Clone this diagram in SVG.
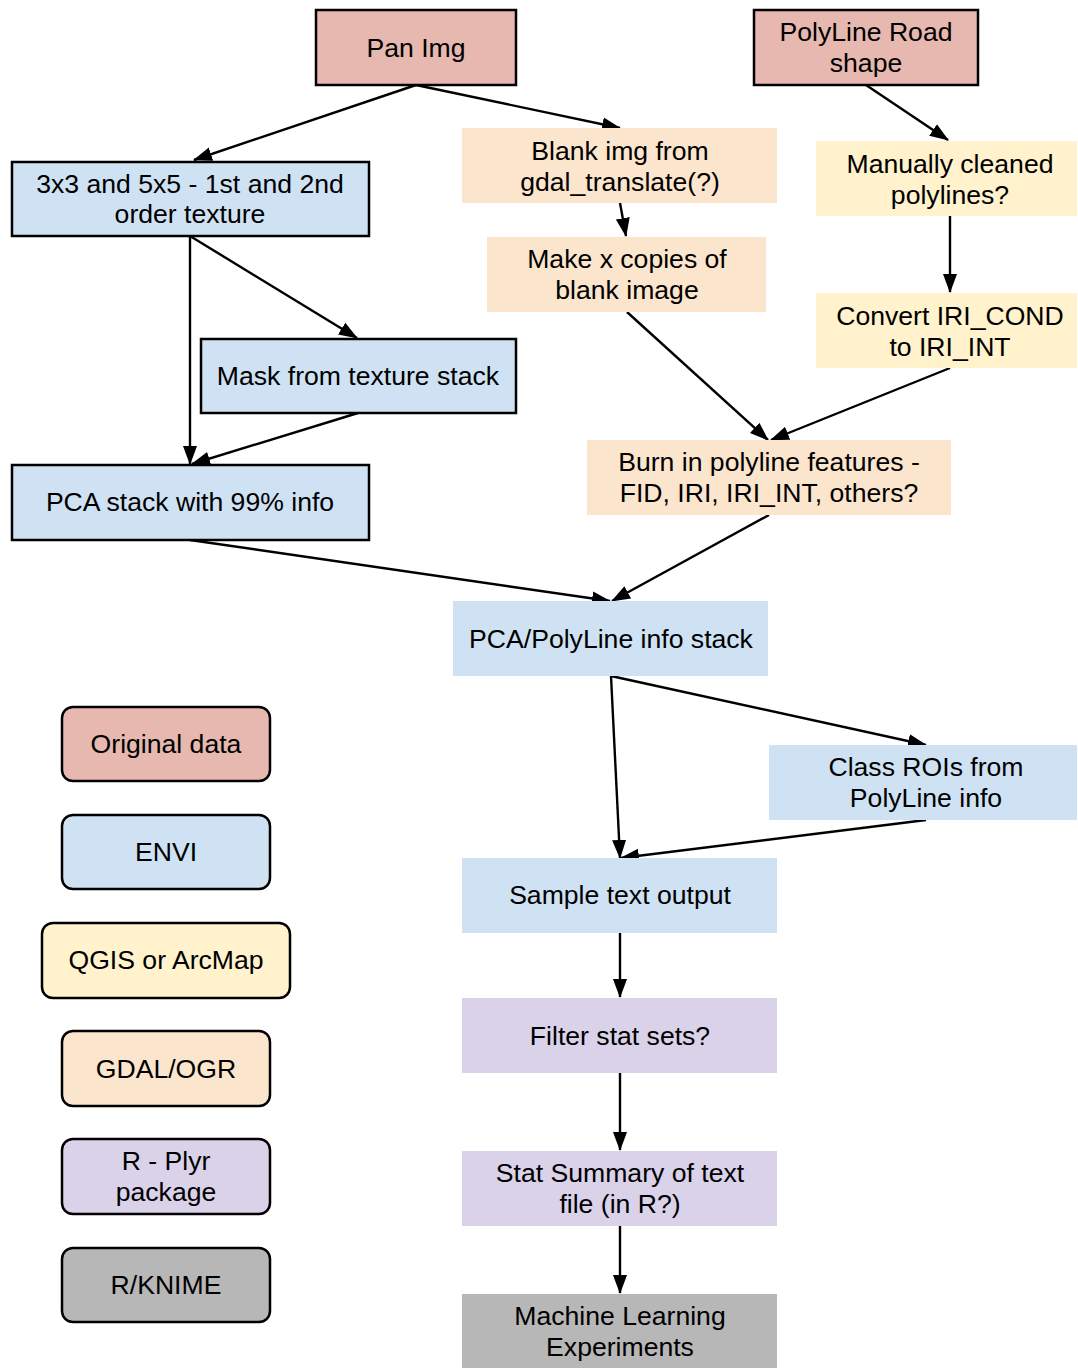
<svg xmlns="http://www.w3.org/2000/svg" width="1078" height="1368" viewBox="0 0 1078 1368">
<defs>
<marker id="ah" markerUnits="userSpaceOnUse" markerWidth="20" markerHeight="16" refX="18" refY="8" orient="auto">
<path d="M0,1 L19,8 L0,15 Z" fill="#000"/>
</marker>
<style>
.t{font-family:"Liberation Sans",Arial,sans-serif;font-size:26.6px;fill:#000;text-anchor:middle}
.s{stroke:#000;stroke-width:2.5}
.red{fill:#e6b8af}.blue{fill:#cfe2f3}.yel{fill:#fff2cc}.org{fill:#fce5cd}.pur{fill:#d9d2e9}.gry{fill:#b7b7b7}
.c{fill:none;stroke:#000;stroke-width:2.4;marker-end:url(#ah)}
</style>
</defs>
<rect width="1078" height="1368" fill="#fff"/>
<g id="connectors">
<line class="c" x1="416" y1="85" x2="194" y2="160"/>
<line class="c" x1="416" y1="85" x2="620" y2="128"/>
<line class="c" x1="866" y1="85" x2="948" y2="140"/>
<line class="c" x1="620" y1="203" x2="626" y2="236"/>
<line class="c" x1="950" y1="216" x2="950" y2="292"/>
<line class="c" x1="190" y1="236" x2="190" y2="464"/>
<line class="c" x1="190" y1="236" x2="357" y2="338"/>
<line class="c" x1="358" y1="413" x2="192" y2="464"/>
<line class="c" x1="627" y1="312" x2="768" y2="440"/>
<line class="c" x1="950" y1="368" x2="771" y2="440"/>
<line class="c" x1="769" y1="515" x2="612" y2="601"/>
<line class="c" x1="190" y1="540" x2="610" y2="601"/>
<line class="c" x1="611" y1="676" x2="620" y2="858"/>
<line class="c" x1="611" y1="676" x2="926" y2="745"/>
<line class="c" x1="926" y1="820" x2="621" y2="858"/>
<line class="c" x1="620" y1="933" x2="620" y2="997"/>
<line class="c" x1="620" y1="1073" x2="620" y2="1150"/>
<line class="c" x1="620" y1="1226" x2="620" y2="1293"/>
</g>
<g id="pan-img"><rect class="red s" x="316" y="10" width="200" height="75"/><text class="t" x="416" y="57">Pan Img</text></g>
<g id="polyline-road"><rect class="red s" x="754" y="10" width="224" height="75"/><text class="t" x="866" y="41">PolyLine Road</text><text class="t" x="866" y="72">shape</text></g>
<g id="blank-img"><rect class="org" x="462" y="128" width="315" height="75"/><text class="t" x="620" y="160">Blank img from</text><text class="t" x="620" y="191">gdal_translate(?)</text></g>
<g id="manually-cleaned"><rect class="yel" x="816" y="141" width="261" height="75"/><text class="t" x="950" y="173">Manually cleaned</text><text class="t" x="950" y="204">polylines?</text></g>
<g id="texture"><rect class="blue s" x="12" y="162" width="357" height="74"/><text class="t" x="190" y="193">3x3 and 5x5 - 1st and 2nd</text><text class="t" x="190" y="223">order texture</text></g>
<g id="make-copies"><rect class="org" x="487" y="237" width="279" height="75"/><text class="t" x="627" y="268">Make x copies of</text><text class="t" x="627" y="299">blank image</text></g>
<g id="convert-iri"><rect class="yel" x="816" y="293" width="261" height="75"/><text class="t" x="950" y="325">Convert IRI_COND</text><text class="t" x="950" y="356">to IRI_INT</text></g>
<g id="mask"><rect class="blue s" x="201" y="339" width="315" height="74"/><text class="t" x="358" y="385">Mask from texture stack</text></g>
<g id="burn-in"><rect class="org" x="587" y="440" width="364" height="75"/><text class="t" x="769" y="471">Burn in polyline features -</text><text class="t" x="769" y="502">FID, IRI, IRI_INT, others?</text></g>
<g id="pca-stack"><rect class="blue s" x="12" y="465" width="357" height="75"/><text class="t" x="190" y="511">PCA stack with 99% info</text></g>
<g id="pca-polyline"><rect class="blue" x="453" y="601" width="315" height="75"/><text class="t" x="611" y="648">PCA/PolyLine info stack</text></g>
<g id="class-rois"><rect class="blue" x="769" y="745" width="308" height="75"/><text class="t" x="926" y="776">Class ROIs from</text><text class="t" x="926" y="807">PolyLine info</text></g>
<g id="sample-text"><rect class="blue" x="462" y="858" width="315" height="75"/><text class="t" x="620" y="904">Sample text output</text></g>
<g id="filter"><rect class="pur" x="462" y="998" width="315" height="75"/><text class="t" x="620" y="1045">Filter stat sets?</text></g>
<g id="stat-summary"><rect class="pur" x="462" y="1151" width="315" height="75"/><text class="t" x="620" y="1182">Stat Summary of text</text><text class="t" x="620" y="1213">file (in R?)</text></g>
<g id="ml"><rect class="gry" x="462" y="1294" width="315" height="75"/><text class="t" x="620" y="1325">Machine Learning</text><text class="t" x="620" y="1356">Experiments</text></g>
<g id="legend-original"><rect class="red s" x="62" y="707" width="208" height="74" rx="11"/><text class="t" x="166" y="753">Original data</text></g>
<g id="legend-envi"><rect class="blue s" x="62" y="815" width="208" height="74" rx="11"/><text class="t" x="166" y="861">ENVI</text></g>
<g id="legend-qgis"><rect class="yel s" x="42" y="923" width="248" height="75" rx="11"/><text class="t" x="166" y="969">QGIS or ArcMap</text></g>
<g id="legend-gdal"><rect class="org s" x="62" y="1031" width="208" height="75" rx="11"/><text class="t" x="166" y="1078">GDAL/OGR</text></g>
<g id="legend-r"><rect class="pur s" x="62" y="1139" width="208" height="75" rx="11"/><text class="t" x="166" y="1170">R - Plyr</text><text class="t" x="166" y="1201">package</text></g>
<g id="legend-knime"><rect class="gry s" x="62" y="1248" width="208" height="74" rx="11"/><text class="t" x="166" y="1294">R/KNIME</text></g>
</svg>
